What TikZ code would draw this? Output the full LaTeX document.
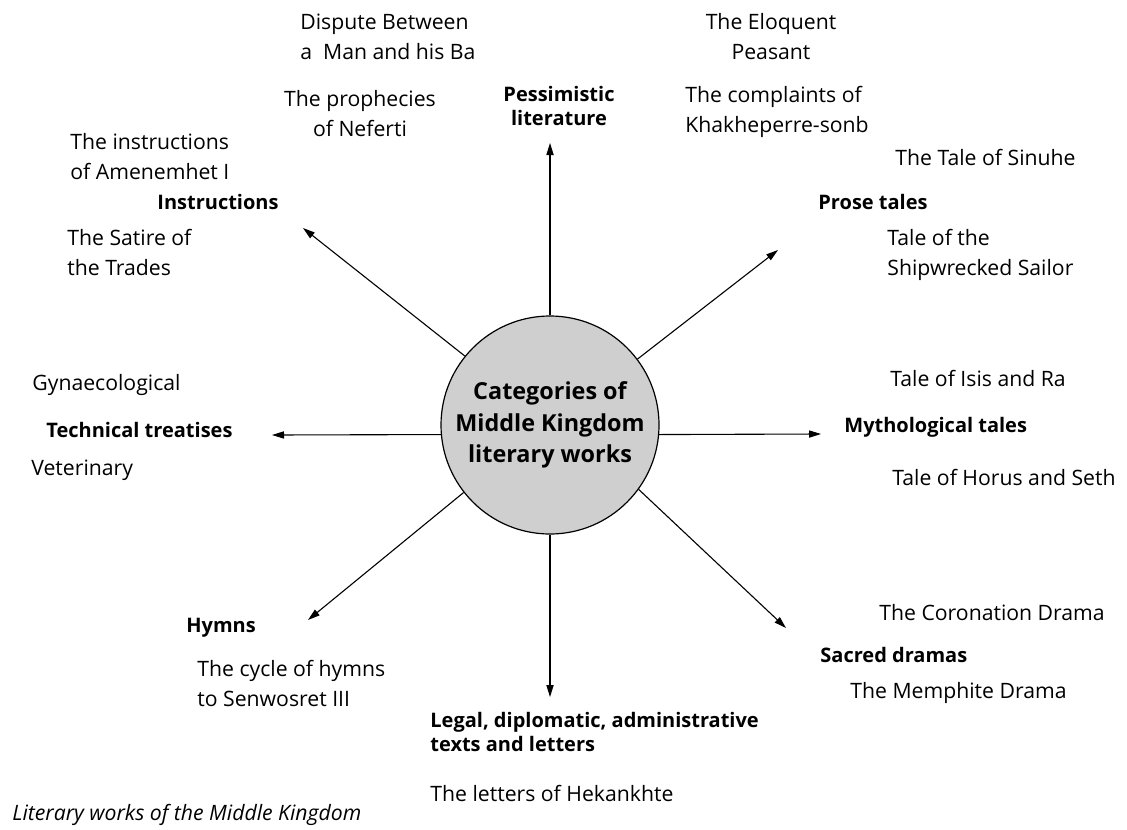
\documentclass[tikz,border=0pt]{standalone}
\usepackage{fontspec}
\setmainfont{Open Sans}
\usepackage{tikz}
\usetikzlibrary{arrows.meta,calc,positioning}

\tikzset{
  item/.style={font=\fontsize{10.6}{15}\selectfont,inner sep=0pt},
  cat/.style={item,font=\fontsize{10}{12.2}\selectfont\bfseries},
  hub/.style={circle,draw,line width=0.6pt,fill=black!19,minimum size=109pt,
    inner sep=0pt,align=center,font=\fontsize{11.7}{15.8}\selectfont\bfseries},
  spoke/.style={-{Triangle[length=6pt,width=3.6pt]},line width=0.55pt},
}

\begin{document}
\begin{tikzpicture}[x=0.5pt,y=-0.5pt]
  \useasboundingbox (0,0) rectangle (1127,829);

  % centre
  \node[hub] (works) at (550,425) {Categories of\\Middle Kingdom\\literary works};

  % arrow tips
  \coordinate (tipN)  at (550,143);
  \coordinate (tipNE) at (778,250);
  \coordinate (tipE)  at (821,434);
  \coordinate (tipSE) at (786,628);
  \coordinate (tipS)  at (550,697);
  \coordinate (tipSW) at (308,620);
  \coordinate (tipW)  at (272,435);
  \coordinate (tipNW) at (303,228);

  \draw[spoke] (works.90)    -- (tipN);
  \draw[spoke] (works.37.5)  -- (tipNE);
  \draw[spoke] (works.-5)    -- (tipE);
  \draw[spoke] (works.-36.7) -- (tipSE);
  \draw[spoke] (works.-90)   -- (tipS);
  \draw[spoke] (works.218.9) -- (tipSW);
  \draw[spoke] (works.185.3) -- (tipW);
  \draw[spoke] (works.141)   -- (tipNW);

  % categories
  \node[cat,align=center] (pess) at (559,106) {Pessimistic\\literature};
  \node[cat,anchor=west] (prose) at (818,202) {Prose tales};
  \node[cat,anchor=west] (myth) at (844,427) {Mythological tales};
  \node[cat,anchor=west] (sacred) at (820,655) {Sacred dramas};
  \node[cat,anchor=west,align=left] (legal) at (430,732)
    {Legal, diplomatic, administrative\\texts and letters};
  \node[cat,anchor=west] (hymns) at (186,628) {Hymns};
  \node[cat,anchor=west] (tech) at (46,430) {Technical treatises};
  \node[cat,anchor=west] (instr) at (157,202) {Instructions};

  % examples
  \node[item,anchor=west,align=left] (dispute) at (300,37)
    {Dispute Between\\a\ \ Man and his Ba};
  \node[item,align=center] (neferti) at (360,114) {The prophecies\\of Neferti};
  \node[item,align=center] (peasant) at (771,37) {The Eloquent\\Peasant};
  \node[item,anchor=west,align=left] (sonb) at (685,112)
    {The complaints of\\Khakheperre-sonb};
  \node[item,anchor=west] (sinuhe) at (895,157) {The Tale of Sinuhe};
  \node[item,anchor=west,align=left] (sailor) at (887,255)
    {Tale of the\\Shipwrecked Sailor};
  \node[item,anchor=west] (isis) at (890,378) {Tale of Isis and Ra};
  \node[item,anchor=west] (horus) at (892,477) {Tale of Horus and Seth};
  \node[item,anchor=west] (coron) at (879,613) {The Coronation Drama};
  \node[item,anchor=west] (memph) at (850,693) {The Memphite Drama};
  \node[item,anchor=west] (hekan) at (430,793) {The letters of Hekankhte};
  \node[item,anchor=west,align=left] (senw) at (197,683)
    {The cycle of hymns\\to Senwosret III};
  \node[item,anchor=west] (gyn) at (32,385) {Gynaecological};
  \node[item,anchor=west] (vet) at (31,470) {Veterinary};
  \node[item,anchor=west,align=left] (amen) at (70,157)
    {The instructions\\of Amenemhet I};
  \node[item,anchor=west,align=left] (satire) at (67,252)
    {The Satire of\\the Trades};

  % caption
  \node[item,anchor=west,font=\fontsize{10.6}{12}\selectfont\itshape] (caption)
    at (12,815) {Literary works of the Middle Kingdom};
\end{tikzpicture}
\end{document}
